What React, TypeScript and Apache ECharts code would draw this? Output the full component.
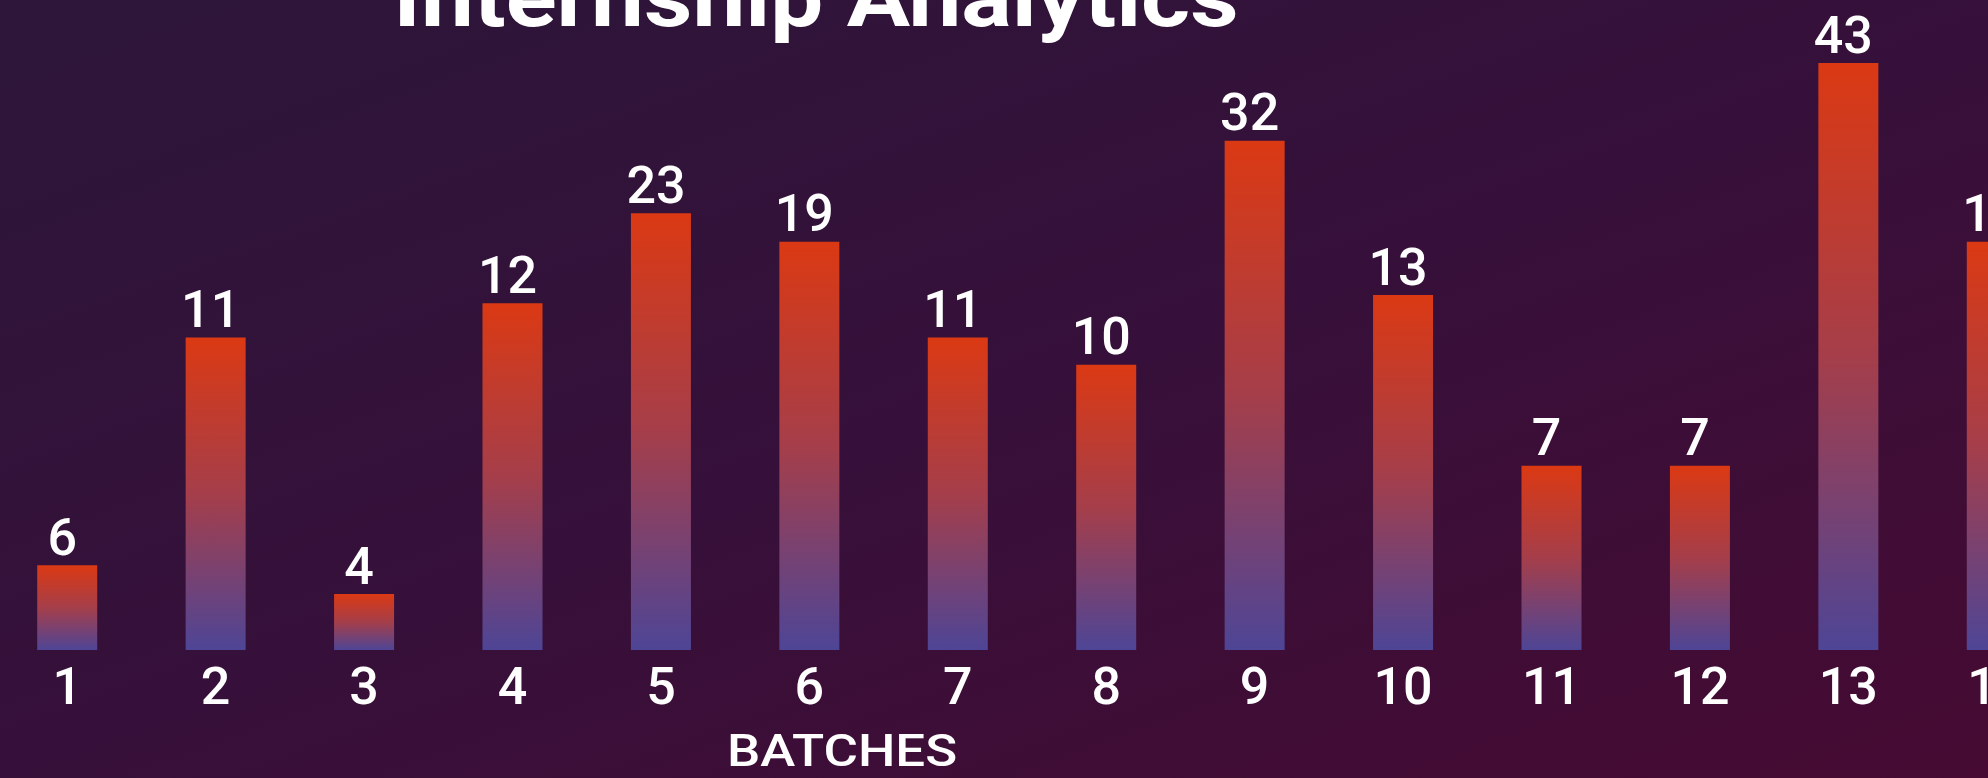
import React, { useEffect, useRef } from "react";
import * as echarts from "echarts";

// Batch categories along the x axis
const batches = ["1", "2", "3", "4", "5", "6", "7", "8", "9", "10", "11", "12", "13", "14"];
// Bar heights (same units as the tallest bar, 43)
const barHeights = [6.2, 22.9, 4.1, 25.4, 32, 29.9, 22.9, 20.9, 37.3, 26, 13.5, 13.5, 43, 29.9];
// Numbers printed above the bars
const internCounts = [6, 11, 4, 12, 23, 19, 11, 10, 32, 13, 7, 7, 43, 19];

const chartTitle = "Internship Analytics";
const axisName = "BATCHES";

// the chart canvas is a bit wider than the window and shifted left,
// so that the cut-off view of the reference is reproduced
const SHIFT = 40;

export default function App() {
  const ref = useRef<HTMLDivElement>(null);

  useEffect(() => {
    if (!ref.current) return;
    const chart = echarts.init(ref.current, null, { renderer: "svg" });
    const barGradient = new echarts.graphic.LinearGradient(0, 0, 0, 1, [
      { offset: 0, color: "#db3913" },
      { offset: 0.5, color: "#a53e4a" },
      { offset: 1, color: "#4e4596" },
    ]);
    chart.setOption({
      animation: false,
      backgroundColor: {
        type: "linear",
        x: 0,
        y: 0,
        x2: 1,
        y2: 1,
        colorStops: [
          { offset: 0, color: "#2c1639" },
          { offset: 0.5, color: "#36103a" },
          { offset: 1, color: "#470a32" },
        ],
      },
      grid: {
        left: SHIFT - 7,
        width: 2078,
        top: 63,
        bottom: 128,
        containLabel: false,
        outerBoundsMode: "none",
      },
      xAxis: {
        type: "category",
        data: batches,
        axisLine: { show: false },
        axisTick: { show: false },
        splitLine: { show: false },
        axisLabel: {
          interval: 0,
          color: "#ffffff",
          fontSize: 52,
          lineHeight: 52,
          fontFamily: "Roboto",
          fontWeight: 500,
          margin: 10,
        },
      },
      yAxis: {
        type: "value",
        min: 0,
        max: 43,
        show: false,
        splitLine: { show: false },
      },
      series: [
        {
          type: "bar",
          data: barHeights,
          barWidth: 60,
          itemStyle: { color: barGradient },
          label: {
            show: true,
            position: "top",
            distance: 2,
            offset: [-5, 0],
            color: "#ffffff",
            fontSize: 52,
            lineHeight: 52,
            fontFamily: "Roboto",
            fontWeight: 500,
            formatter: (p: any) => String(internCounts[p.dataIndex]),
          },
        },
      ],
      graphic: [
        {
          type: "text",
          x: SHIFT + 816,
          y: -2,
          scaleX: 1.15,
          style: {
            text: chartTitle,
            fill: "#ffffff",
            font: "bold 82px Roboto",
            align: "center",
            verticalAlign: "middle",
          },
        },
        {
          type: "text",
          x: SHIFT + 842,
          y: 751,
          scaleX: 1.2,
          style: {
            text: axisName,
            fill: "#ffffff",
            font: "500 44px Roboto",
            align: "center",
            verticalAlign: "middle",
          },
        },
      ],
    });
    return () => chart.dispose();
  }, []);

  return (
    <div
      ref={ref}
      style={{ position: "fixed", left: -SHIFT, top: 0, width: 2140, height: 778 }}
    />
  );
}
